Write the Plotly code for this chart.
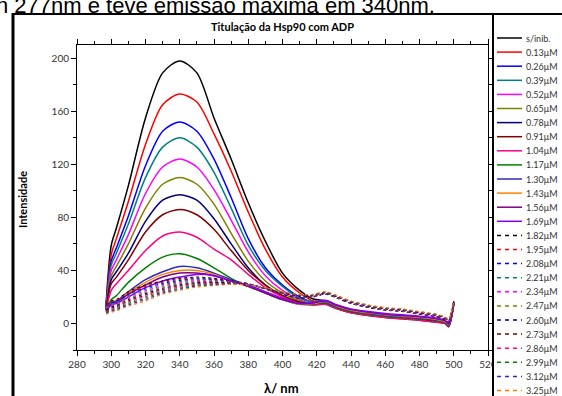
import plotly.graph_objects as go

# ---------------- data ----------------
lam = [297, 300, 303, 310, 320, 330, 340, 350, 360, 370, 380, 390, 400, 410,
       418, 425, 432, 440, 450, 460, 470, 480, 490, 495, 497, 500]

s_inib = [15, 59, 72, 104, 155, 189, 198, 189, 155, 124, 91, 62, 38, 25, 18.5, 17, 13, 10, 8, 6.5, 5.5, 4.5, 3, 1.5, -1, 16]
c013 = [13, 52, 64, 92, 135, 165, 173, 167, 143, 115, 84, 56, 35, 23, 17, 16, 12.5, 9.5, 7.5, 6, 5, 4, 2.5, 1, -1.5, 15.5]
c026 = [12, 47, 57, 81, 119, 145, 152, 145, 124, 95, 64, 42, 29, 20, 16, 16, 12.5, 9.5, 7.5, 6, 5, 4, 2.5, 1, -1.5, 15.5]
c039 = [12, 44, 53, 75, 110, 133, 140, 133, 114, 87, 59, 40, 28, 19, 16, 16, 12.5, 9.5, 7.5, 6, 5, 4, 2.5, 1, -1.5, 15.5]
c052 = [11, 40, 48, 67, 98, 118, 124, 118, 101, 78, 54, 36, 25, 18, 15, 15.5, 12, 9, 7, 5.5, 4.5, 3.5, 2, 0.5, -2, 15]
c065 = [11, 36, 43, 60, 87, 105, 110, 105, 90, 68, 47, 32, 23, 17, 15, 15.5, 12, 9, 7, 5.5, 4.5, 3.5, 2, 0.5, -2, 15]
c078 = [10, 33, 39, 53, 77, 93, 97, 93, 79, 60, 42, 29, 21, 16, 14.5, 15, 11.5, 8.5, 6.5, 5, 4, 3, 1.5, 0, -2, 15]
c091 = [10, 30, 35, 48, 69, 82, 86, 82, 71, 55, 40, 29, 21, 16, 14, 14.5, 11, 8, 6, 4.5, 3.5, 2.5, 1, 0, -2.5, 14.5]
c104 = [10, 25, 30, 40, 55, 66, 69, 65, 56, 48, 37, 27, 20, 15, 14, 14.5, 11, 8, 6, 4.5, 3.5, 2.5, 1, 0, -2.5, 14.5]
c117 = [10, 18, 21, 31, 42, 50, 52.5, 49, 42, 34, 28, 23, 18, 14.5, 14.5, 15.5, 12, 9, 7, 5.5, 4.5, 3.5, 2, 0.5, -2, 15]
c130 = [10, 16, 17, 24, 33, 39, 43, 42, 38, 33, 28, 23, 18, 14.5, 15, 16, 12.5, 9.5, 7.5, 6, 5, 4, 2.5, 1, -1.5, 15.5]
c143 = [10, 15, 16, 23, 31, 37, 40, 40, 37, 32, 28, 23, 18, 14.5, 15, 16.5, 13, 10, 8, 6.5, 5.5, 4.5, 3, 1.5, -1, 16]
c156 = [9, 15, 16, 22, 29, 35, 38, 38, 36, 32, 28, 23, 18, 15, 15.5, 17, 13.5, 10.5, 8.5, 7, 6, 5, 3.5, 2, -0.5, 16]
c169 = [9, 14, 15, 20, 27, 32, 35, 37, 36, 32, 29, 24, 19, 15, 16, 17.5, 14, 11, 9, 7.5, 6.5, 5.5, 4, 2.5, 0, 16.5]
c182 = [14, 17, 18, 24, 29, 32, 34, 35, 34, 32, 30, 26, 22, 19, 20, 22, 19, 15, 12, 10, 9, 7, 5, 3, 1, 16]
c195 = [13.4, 16.2, 17.2, 23, 27.9, 31.1, 33.2, 34.3, 33.5, 31.8, 29.9, 26.1, 22.2, 19.3, 20.2, 22.2, 19.2, 15.2, 12.2, 10.2, 9.2, 7.2, 5.2, 3.2, 1.2, 16.1]
c208 = [12.7, 15.5, 16.5, 22, 26.8, 30.2, 32.4, 33.6, 33, 31.5, 29.8, 26.2, 22.4, 19.5, 20.4, 22.4, 19.4, 15.4, 12.4, 10.4, 9.4, 7.4, 5.4, 3.4, 1.4, 16.2]
c221 = [12.1, 14.7, 15.7, 21, 25.7, 29.3, 31.5, 33, 32.5, 31.3, 29.7, 26.3, 22.5, 19.8, 20.5, 22.5, 19.5, 15.5, 12.5, 10.5, 9.5, 7.5, 5.5, 3.5, 1.5, 16.3]
c234 = [11.5, 13.9, 14.9, 20, 24.6, 28.4, 30.7, 32.3, 32, 31.1, 29.6, 26.4, 22.7, 20.1, 20.7, 22.7, 19.7, 15.7, 12.7, 10.7, 9.7, 7.7, 5.7, 3.7, 1.7, 16.4]
c247 = [10.8, 13.1, 14.1, 19, 23.5, 27.5, 29.9, 31.6, 31.5, 30.9, 29.5, 26.5, 22.9, 20.4, 20.9, 22.9, 19.9, 15.9, 12.9, 10.9, 9.9, 7.9, 5.9, 3.9, 1.9, 16.5]
c260 = [10.2, 12.4, 13.4, 18, 22.5, 26.5, 29.1, 30.9, 31, 30.6, 29.5, 26.5, 23.1, 20.6, 21.1, 23.1, 20.1, 16.1, 13.1, 11.1, 10.1, 8.1, 6.1, 4.1, 2.1, 16.5]
c273 = [9.5, 11.6, 12.6, 17, 21.4, 25.6, 28.3, 30.2, 30.5, 30.4, 29.4, 26.6, 23.3, 20.9, 21.3, 23.3, 20.3, 16.3, 13.3, 11.3, 10.3, 8.3, 6.3, 4.3, 2.3, 16.6]
c286 = [8.9, 10.8, 11.8, 16, 20.3, 24.7, 27.5, 29.5, 30, 30.2, 29.3, 26.7, 23.5, 21.2, 21.5, 23.5, 20.5, 16.5, 13.5, 11.5, 10.5, 8.5, 6.5, 4.5, 2.5, 16.7]
c299 = [8.3, 10, 11, 15, 19.2, 23.8, 26.6, 28.9, 29.5, 30, 29.2, 26.8, 23.6, 21.5, 21.6, 23.6, 20.6, 16.6, 13.6, 11.6, 10.6, 8.6, 6.6, 4.6, 2.6, 16.8]
c312 = [7.6, 9.3, 10.3, 14, 18.1, 22.9, 25.8, 28.2, 29, 29.7, 29.1, 26.9, 23.8, 21.7, 21.8, 23.8, 20.8, 16.8, 13.8, 11.8, 10.8, 8.8, 6.8, 4.8, 2.8, 16.9]
c325 = [7, 8.5, 9.5, 13, 17, 22, 25, 27.5, 28.5, 29.5, 29, 27, 24, 22, 22, 24, 21, 17, 14, 12, 11, 9, 7, 5, 3, 17]

labels = ['s/inib.', '0.13μM', '0.26μM', '0.39μM', '0.52μM', '0.65μM', '0.78μM',
          '0.91μM', '1.04μM', '1.17μM', '1.30μM', '1.43μM', '1.56μM', '1.69μM',
          '1.82μM', '1.95μM', '2.08μM', '2.21μM', '2.34μM', '2.47μM', '2.60μM',
          '2.73μM', '2.86μM', '2.99μM', '3.12μM', '3.25μM']

x_ticks = [280, 300, 320, 340, 360, 380, 400, 420, 440, 460, 480, 500, 520]
y_ticks = [0, 40, 80, 120, 160, 200]

series = [s_inib, c013, c026, c039, c052, c065, c078, c091, c104, c117, c130, c143, c156, c169,
          c182, c195, c208, c221, c234, c247, c260, c273, c286, c299, c312, c325]

base_colors = ['#000000', '#FF0000', '#0000FF', '#008080', '#FF00FF', '#808000', '#000080',
               '#800000', '#FF0080', '#008000', '#2B2BB8', '#FF8000', '#800080', '#8000FF']
colors = base_colors + base_colors[:12]
dashes = ['solid'] * 14 + ['3px,3px'] * 12
widths = [1.5] * 14 + [1.1] * 12

# ---------------- layout geometry ----------------
W, H = 562, 396
L, R, T, B = 77, 488, 45, 350


def px(x):
    return (x - L) / (R - L)


def py(y):
    return (B - y) / (B - T)


FONT = 'Lato'
TICKC = '#333333'

fig = go.Figure()
for ys, name, col, d, w in zip(series, labels, colors, dashes, widths):
    fig.add_trace(go.Scatter(
        x=lam, y=ys, mode='lines', name=name, showlegend=False, hoverinfo='skip',
        line=dict(color=col, width=w, dash=d, shape='spline', smoothing=0.8)))

axis_common = dict(showline=True, linecolor='black', linewidth=1, mirror='allticks',
                   showgrid=False, zeroline=False, ticks='outside', ticklen=5,
                   tickcolor='black', tickwidth=1,
                   tickfont=dict(family=FONT, size=10, color=TICKC))

fig.update_xaxes(range=[280, 520], tickvals=x_ticks,
                 minor=dict(dtick=10, tick0=280, ticks='outside', ticklen=3, tickcolor='black'),
                 **axis_common)
fig.update_yaxes(range=[-20, 210], tickvals=y_ticks,
                 minor=dict(dtick=20, tick0=0, ticks='outside', ticklen=3, tickcolor='black'),
                 **axis_common)

shapes = []
# white legend panel covering the right side
shapes.append(dict(type='rect', xref='paper', yref='paper', x0=px(493), x1=px(W + 10),
                   y0=py(H + 10), y1=py(14), fillcolor='white', line=dict(width=0), layer='above'))
# outer frame lines
shapes.append(dict(type='line', xref='paper', yref='paper', x0=px(13), x1=px(13),
                   y0=py(13), y1=py(H + 10), line=dict(color='black', width=3), layer='above'))
shapes.append(dict(type='line', xref='paper', yref='paper', x0=px(12), x1=px(W + 10),
                   y0=py(14), y1=py(14), line=dict(color='black', width=2), layer='above'))
shapes.append(dict(type='line', xref='paper', yref='paper', x0=px(493), x1=px(493),
                   y0=py(14), y1=py(H + 10), line=dict(color='black', width=2), layer='above'))

annotations = []
# manual legend
for i, (name, col, d) in enumerate(zip(labels, colors, dashes)):
    yy = 38 + i * 14.1
    shapes.append(dict(type='line', xref='paper', yref='paper', x0=px(497), x1=px(522),
                       y0=py(yy), y1=py(yy),
                       line=dict(color=col, width=1.5, dash='solid' if d == 'solid' else '4px,4px'),
                       layer='above'))
    annotations.append(dict(text=name, xref='paper', yref='paper', x=px(524), y=py(yy),
                            xanchor='left', yanchor='middle', showarrow=False,
                            font=dict(family=FONT, size=9, color=TICKC)))

# texts
annotations.append(dict(text='n 277nm e teve emissão máxima em 340nm.', xref='paper', yref='paper',
                        x=px(-6), y=py(5), xanchor='left', yanchor='middle', showarrow=False,
                        font=dict(family='Liberation Sans', size=22, color='black')))
annotations.append(dict(text='<b>Titulação da Hsp90 com ADP</b>', xref='paper', yref='paper',
                        x=px(282), y=py(26), xanchor='center', yanchor='middle', showarrow=False,
                        font=dict(family=FONT, size=11, color='black')))
annotations.append(dict(text='<b>Intensidade</b>', xref='paper', yref='paper', textangle=-90,
                        x=px(22), y=py(200), xanchor='center', yanchor='middle', showarrow=False,
                        font=dict(family=FONT, size=11, color='black')))
annotations.append(dict(text='<b>λ/ nm</b>', xref='paper', yref='paper',
                        x=px(281), y=py(388), xanchor='center', yanchor='middle', showarrow=False,
                        font=dict(family=FONT, size=13, color='black')))

fig.update_layout(width=W, height=H, margin=dict(l=L, r=W - R, t=T, b=H - B, pad=0),
                  paper_bgcolor='white', plot_bgcolor='white', showlegend=False,
                  shapes=shapes, annotations=annotations)

fig.write_html('out.html', config={'displayModeBar': False},
               post_script="document.body.style.margin='0';document.body.style.overflow='hidden';")
